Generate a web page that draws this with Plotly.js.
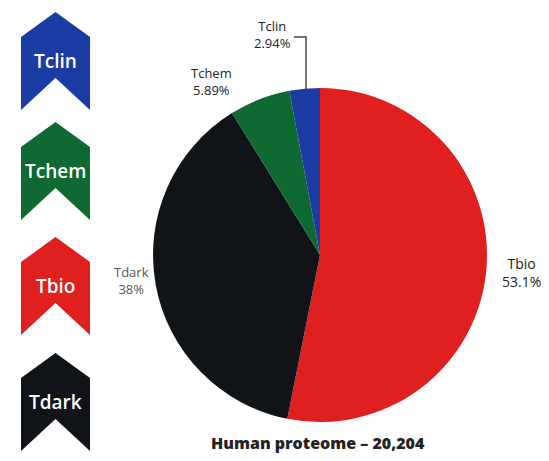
<!DOCTYPE html>
<html>
<head>
<meta charset="utf-8">
<script src="https://cdn.plot.ly/plotly-3.0.1.min.js"></script>
<style>html,body{margin:0;padding:0;background:#fff}#chart{width:549px;height:461px}</style>
</head>
<body>
<div id="chart"></div>
<script>
// Data (clockwise from 12 o'clock)
const categories = ["Tbio", "Tdark", "Tchem", "Tclin"];
const percents = [53.1, 38, 5.89, 2.94];
const percentLabels = ["53.1%", "38%", "5.89%", "2.94%"];
const sliceColors = ["#e01f1f", "#101418", "#0e6a31", "#1b3ca3"];
const legendOrder = ["Tclin", "Tchem", "Tbio", "Tdark"];
const legendColors = ["#1b3ca3", "#0e6a31", "#e01f1f", "#101418"];
const chartTitle = "Human proteome – 20,204";

const W = 549, H = 461;
const px = x => x / W;
const py = y => 1 - y / H;

const trace = {
  type: "pie",
  values: percents,
  labels: categories,
  marker: { colors: sliceColors, line: { width: 0 } },
  sort: false,
  direction: "clockwise",
  rotation: 0,
  textinfo: "none",
  hoverinfo: "label+percent",
  domain: { x: [px(153), px(487)], y: [py(422), py(88)] },
  showlegend: false
};

const labelPos = {
  Tclin: [272, 35, "#222", 13],
  Tchem: [211, 81, "#222", 13],
  Tbio: [521, 272, "#222", 14],
  Tdark: [131, 280, "#555", 13]
};

const annotations = [];
categories.forEach((c, i) => {
  const p = labelPos[c];
  annotations.push({
    x: px(p[0]), y: py(p[1]), xref: "paper", yref: "paper",
    text: c + "<br>" + percentLabels[i], showarrow: false,
    font: { family: "Open Sans, sans-serif", size: p[3], color: p[2] },
    align: "center", xanchor: "center", yanchor: "middle"
  });
});

const shapes = [];
// Tclin leader line
shapes.push({
  type: "path", xref: "paper", yref: "paper",
  path: `M ${px(294)} ${py(37)} L ${px(306)} ${py(37)} L ${px(306)} ${py(89)}`,
  line: { color: "#444", width: 1.5 }
});

// Chevrons
const tops = [12, 122, 237, 353];
legendOrder.forEach((c, i) => {
  const t = tops[i];
  const L = 21, R = 90, M = 55.5;
  const pts = [[M, t], [R, t + 25], [R, t + 98], [M, t + 66], [L, t + 98], [L, t + 25]];
  const path = "M " + pts.map(p => `${px(p[0])} ${py(p[1])}`).join(" L ") + " Z";
  shapes.push({ type: "path", xref: "paper", yref: "paper", path: path,
    fillcolor: legendColors[i], line: { width: 0 } });
  annotations.push({
    x: px(M), y: py(t + 49), xref: "paper", yref: "paper",
    text: c, showarrow: false,
    font: { family: "Open Sans, sans-serif", size: 19, color: "#ffffff", weight: 600 },
    xanchor: "center", yanchor: "middle"
  });
});

annotations.push({
  x: px(318), y: py(443), xref: "paper", yref: "paper",
  text: chartTitle, showarrow: false,
  font: { family: "Open Sans, sans-serif", size: 16, color: "#222", weight: 800 },
  xanchor: "center", yanchor: "middle"
});

const layout = {
  width: W, height: H,
  margin: { l: 0, r: 0, t: 0, b: 0 },
  paper_bgcolor: "#fff",
  annotations: annotations,
  shapes: shapes
};

Plotly.newPlot("chart", [trace], layout, { displayModeBar: false, staticPlot: true });
</script>
</body>
</html>
